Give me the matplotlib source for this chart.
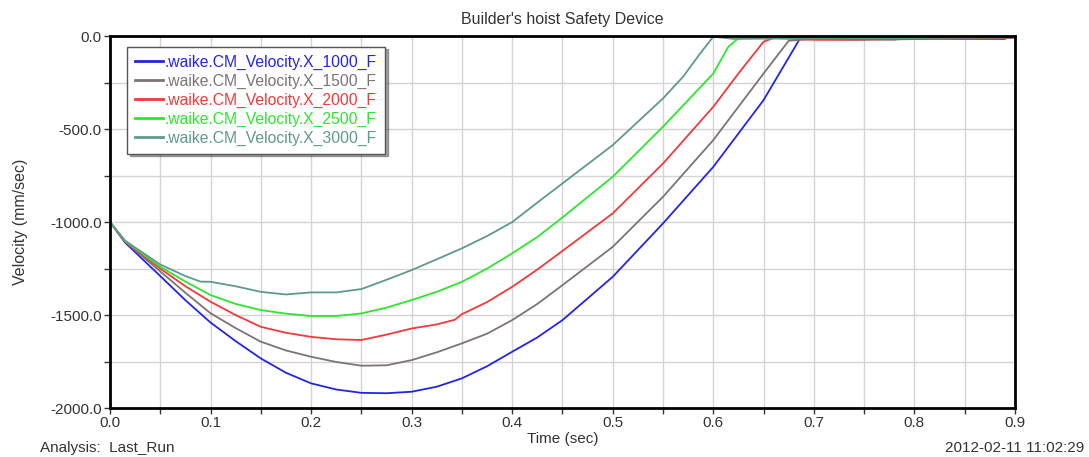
import matplotlib
matplotlib.use("Agg")
import matplotlib.pyplot as plt
from matplotlib.ticker import MultipleLocator, FormatStrFormatter

plt.rcParams["font.family"] = ["Liberation Sans", "DejaVu Sans"]

# ==========================
# DATOS
# ==========================

t_1000 = [0, 0.015, 0.05, 0.075, 0.1, 0.125, 0.15, 0.175, 0.2, 0.225, 0.25, 0.275,
          0.3, 0.325, 0.35, 0.375, 0.4, 0.425, 0.45, 0.5, 0.55, 0.6, 0.65, 0.686,
          0.7, 0.75, 0.78, 0.8, 0.84, 0.89]
v_1000 = [-1000, -1110, -1290, -1420, -1540, -1640, -1733, -1810, -1867, -1900, -1918, -1920,
          -1912, -1885, -1840, -1775, -1697, -1620, -1527, -1294, -1007, -703, -344, -15,
          -10, -15, -18, -8, -15, -15]

t_1500 = [0, 0.015, 0.05, 0.075, 0.1, 0.125, 0.15, 0.175, 0.2, 0.225, 0.25, 0.275,
          0.3, 0.325, 0.35, 0.375, 0.4, 0.425, 0.45, 0.5, 0.55, 0.6, 0.65, 0.675,
          0.7, 0.74, 0.9]
v_1500 = [-1000, -1105, -1265, -1380, -1490, -1570, -1643, -1690, -1724, -1752, -1772, -1770,
          -1742, -1700, -1652, -1600, -1527, -1440, -1339, -1133, -864, -559, -201, -25,
          -15, -20, -10]

t_2000 = [0, 0.015, 0.05, 0.075, 0.1, 0.125, 0.15, 0.175, 0.2, 0.225, 0.25, 0.275,
          0.3, 0.325, 0.343, 0.35, 0.375, 0.4, 0.425, 0.45, 0.5, 0.55, 0.6, 0.625,
          0.65, 0.66, 0.7, 0.72, 0.9]
v_2000 = [-1000, -1105, -1250, -1345, -1428, -1500, -1563, -1595, -1617, -1630, -1634, -1605,
          -1572, -1550, -1525, -1495, -1430, -1348, -1255, -1155, -953, -685, -380, -201,
          -30, -10, -20, -20, -10]

t_2500 = [0, 0.015, 0.05, 0.075, 0.1, 0.125, 0.15, 0.175, 0.2, 0.225, 0.25, 0.275,
          0.3, 0.325, 0.35, 0.375, 0.4, 0.425, 0.45, 0.5, 0.55, 0.6, 0.615, 0.625,
          0.65, 0.7, 0.9]
v_2500 = [-1000, -1102, -1240, -1320, -1392, -1440, -1473, -1492, -1505, -1505, -1491, -1460,
          -1419, -1375, -1321, -1250, -1168, -1080, -975, -756, -487, -201, -57, -12,
          -10, -10, -5]

t_3000 = [0, 0.015, 0.05, 0.075, 0.09, 0.1, 0.125, 0.15, 0.175, 0.2, 0.225, 0.25, 0.275,
          0.3, 0.325, 0.35, 0.375, 0.4, 0.425, 0.45, 0.5, 0.55, 0.57, 0.587, 0.6,
          0.62, 0.7, 0.9]
v_3000 = [-1000, -1100, -1228, -1290, -1320, -1321, -1345, -1375, -1389, -1378, -1378, -1360, -1310,
          -1258, -1200, -1141, -1075, -1000, -895, -792, -586, -335, -218, -93, -3,
          -15, -12, -8]

labels = [".waike.CM_Velocity.X_1000_F", ".waike.CM_Velocity.X_1500_F",
          ".waike.CM_Velocity.X_2000_F", ".waike.CM_Velocity.X_2500_F",
          ".waike.CM_Velocity.X_3000_F"]
colors = ["#2424e6", "#7d7373", "#f23a3a", "#2ee62e", "#5e9a8c"]

series = [(t_1000, v_1000), (t_1500, v_1500), (t_2000, v_2000),
          (t_2500, v_2500), (t_3000, v_3000)]

# ==========================
# GRAFICO
# ==========================

fig = plt.figure(figsize=(10.89, 4.57), dpi=100)
ax = fig.add_axes([0.101, 0.107, 0.831, 0.814])

for (t, v), lab, col in zip(series, labels, colors):
    ax.plot(t, v, color=col, lw=1.3, label=lab)

ax.set_xlim(0, 0.9)
ax.set_ylim(-2000, 0)
ax.xaxis.set_major_locator(MultipleLocator(0.1))
ax.xaxis.set_minor_locator(MultipleLocator(0.05))
ax.yaxis.set_major_locator(MultipleLocator(500))
ax.yaxis.set_minor_locator(MultipleLocator(250))
ax.xaxis.set_major_formatter(FormatStrFormatter("%.1f"))
ax.yaxis.set_major_formatter(FormatStrFormatter("%.1f"))
ax.grid(True, which="both", color="#d4d4d4", lw=1)
ax.set_axisbelow(True)
ax.tick_params(which="both", direction="out", length=4, width=1, colors="#333333",
               labelsize=11, top=False, right=False, pad=2)
for s in ax.spines.values():
    s.set_linewidth(2)
    s.set_color("black")

ax.set_title("Builder's hoist Safety Device", fontsize=11.5, color="#333333", pad=9)
ax.set_xlabel("Time (sec)", fontsize=11, color="#333333", labelpad=1)
ax.set_ylabel("Velocity (mm/sec)", fontsize=11.5, color="#333333", labelpad=16)

leg = ax.legend(loc="upper left", bbox_to_anchor=(0.019, 0.972), fontsize=11.3,
                handlelength=1.8, handletextpad=0.1, labelspacing=0.25,
                borderpad=0.5, borderaxespad=0, fancybox=False, shadow=True,
                framealpha=1, edgecolor="#555555")
for line in leg.get_lines():
    line.set_linewidth(2)
for txt, col in zip(leg.get_texts(), colors):
    txt.set_color(col)

fig.text(0.037, 0.012, "Analysis:  Last_Run", fontsize=11, color="#333333")
fig.text(0.996, 0.012, "2012-02-11 11:02:29", fontsize=11, color="#333333", ha="right")

fig.savefig("out.png", dpi=100)
plt.close(fig)
